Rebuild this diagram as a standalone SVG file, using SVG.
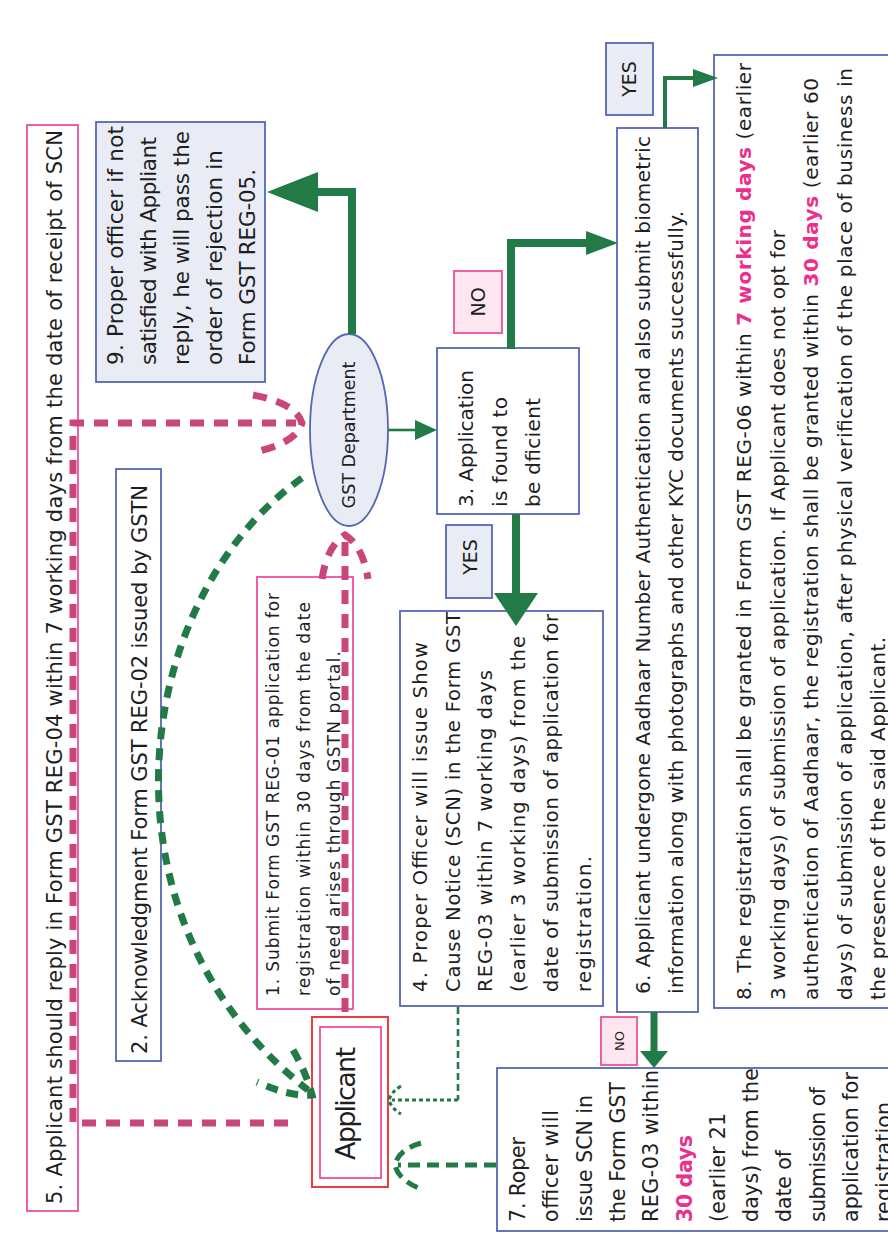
<svg xmlns="http://www.w3.org/2000/svg" width="888" height="1254" viewBox="0 0 888 1254">
  <style>
    .bg { fill: #ffffff; }
    .box { fill: #ffffff; stroke: #5567b5; stroke-width: 1.8; }
    .boxf { fill: #e9ecf5; stroke: #5567b5; stroke-width: 1.8; }
    .pbox { fill: #ffffff; stroke: #ef4f9c; stroke-width: 1.8; }
    .plab { fill: #fde6f0; stroke: #ef4f9c; stroke-width: 1.8; }
    .red { fill: #ffffff; stroke: #f03c3c; stroke-width: 2; }
    .t { font-family: "DejaVu Sans", "Liberation Sans", sans-serif; fill: #1e1e1e; }
    .hl { fill: #ec2f8c; font-weight: bold; }
    .g-solid { fill: none; stroke: #227a46; stroke-linejoin: miter; }
    .g-head { fill: #227a46; stroke: none; }
    .p-dash { fill: none; stroke: #c9457a; stroke-width: 7; stroke-dasharray: 14 10; }
    .g-dash { fill: none; stroke: #227a46; stroke-width: 7; stroke-dasharray: 12 9; }
    .g-thin { fill: none; stroke: #227a46; stroke-width: 2.6; stroke-dasharray: 7 4; }
    .g-dot { fill: none; stroke: #227a46; stroke-width: 3.2; stroke-dasharray: 4 3; }
    .g-mid { fill: none; stroke: #227a46; stroke-width: 5; stroke-dasharray: 12 7; }
  </style>

  <rect class="bg" x="0" y="0" width="888" height="1254"/>

  <!-- 5. reply box -->
  <g id="node-reply">
    <rect class="pbox" x="27" y="125" width="51" height="1086"/>
    <text class="t" font-size="21" transform="translate(62,1204) rotate(-90)" textLength="1074">5. Applicant should reply in Form GST REG-04 within 7 working days from the date of receipt of SCN</text>
  </g>

  <!-- 2. acknowledgment -->
  <g id="node-ack">
    <rect class="box" x="116" y="469" width="45" height="592"/>
    <text class="t" font-size="21" transform="translate(147,1054) rotate(-90)" textLength="569">2. Acknowledgment Form GST REG-02 issued by GSTN</text>
  </g>

  <!-- 9. rejection -->
  <g id="node-reject">
    <rect class="boxf" x="96" y="122" width="169" height="260"/>
    <text class="t" font-size="21.5" transform="translate(123,365) rotate(-90)" textLength="239">9. Proper officer if not</text>
    <text class="t" font-size="21.5" transform="translate(156,365) rotate(-90)" textLength="228">satisfied with Appliant</text>
    <text class="t" font-size="21.5" transform="translate(189,365) rotate(-90)" textLength="234">reply, he will pass the</text>
    <text class="t" font-size="21.5" transform="translate(222,365) rotate(-90)" textLength="215">order of rejection in</text>
    <text class="t" font-size="21.5" transform="translate(255,365) rotate(-90)" textLength="196">Form GST REG-05.</text>
  </g>

  <!-- 1. submit -->
  <g id="node-submit">
    <rect class="pbox" x="257" y="577" width="96" height="432"/>
    <text class="t" font-size="17" transform="translate(279,996) rotate(-90)" textLength="403">1. Submit Form GST REG-01 application for</text>
    <text class="t" font-size="17" transform="translate(309.5,996) rotate(-90)" textLength="394">registration within 30 days from the date</text>
    <text class="t" font-size="17" transform="translate(340,996) rotate(-90)" textLength="345">of need arises through GSTN portal.</text>
  </g>

  <!-- Applicant -->
  <g id="node-applicant">
    <rect class="red" x="312" y="1017" width="76" height="170"/>
    <rect class="pbox" x="320" y="1027" width="61" height="151"/>
    <text class="t" font-size="27" transform="translate(355,1160) rotate(-90)" textLength="113">Applicant</text>
  </g>

  <!-- GST Department -->
  <g id="node-gst">
    <ellipse cx="349" cy="430" rx="39" ry="96" fill="#e9ecf5" stroke="#5567b5" stroke-width="1.8"/>
    <text class="t" font-size="17.5" text-anchor="middle" transform="translate(355,435) rotate(-90)">GST Department</text>
  </g>

  <!-- 3. deficient -->
  <g id="node-deficient">
    <rect class="box" x="437" y="348" width="142" height="166"/>
    <text class="t" font-size="20" transform="translate(473,507) rotate(-90)" textLength="137">3. Application</text>
    <text class="t" font-size="20" transform="translate(507,507) rotate(-90)" textLength="110">is found to</text>
    <text class="t" font-size="20" transform="translate(540,507) rotate(-90)" textLength="109">be dficient</text>
  </g>

  <!-- labels -->
  <g id="label-no-1">
    <rect class="plab" x="454" y="271" width="48" height="62"/>
    <text class="t" font-size="19" text-anchor="middle" transform="translate(485,302) rotate(-90)">NO</text>
  </g>
  <g id="label-yes-1">
    <rect class="boxf" x="446" y="525" width="46" height="73"/>
    <text class="t" font-size="19" text-anchor="middle" transform="translate(477,557) rotate(-90)">YES</text>
  </g>
  <g id="label-yes-2">
    <rect class="boxf" x="606" y="43" width="47" height="72"/>
    <text class="t" font-size="19" text-anchor="middle" transform="translate(636,79) rotate(-90)">YES</text>
  </g>
  <g id="label-no-2">
    <rect class="plab" x="601" y="1017" width="36" height="48"/>
    <text class="t" font-size="13" text-anchor="middle" transform="translate(624,1041) rotate(-90)">NO</text>
  </g>

  <!-- 4. show cause notice -->
  <g id="node-scn">
    <rect class="box" x="400" y="611" width="203" height="395"/>
    <text class="t" font-size="19.5" transform="translate(427,992) rotate(-90)" textLength="350">4. Proper Officer will issue Show</text>
    <text class="t" font-size="19.5" transform="translate(459.7,992) rotate(-90)" textLength="380">Cause Notice (SCN) in the Form GST</text>
    <text class="t" font-size="19.5" transform="translate(492.4,992) rotate(-90)" textLength="322">REG-03 within 7 working days</text>
    <text class="t" font-size="19.5" transform="translate(525.1,992) rotate(-90)" textLength="356">(earlier 3 working days) from the</text>
    <text class="t" font-size="19.5" transform="translate(557.8,992) rotate(-90)" textLength="378">date of submission of application for</text>
    <text class="t" font-size="19.5" transform="translate(590.5,992) rotate(-90)" textLength="136">registration.</text>
  </g>

  <!-- 6. Aadhaar authentication -->
  <g id="node-aadhaar">
    <rect class="box" x="617" y="128" width="81" height="884"/>
    <text class="t" font-size="20" transform="translate(650,994) rotate(-90)" textLength="858">6. Applicant undergone Aadhaar Number Authentication and also submit biometric</text>
    <text class="t" font-size="20" transform="translate(683,994) rotate(-90)" textLength="783">information along with photographs and other KYC documents successfully.</text>
  </g>

  <!-- 8. registration granted -->
  <g id="node-granted">
    <rect class="box" x="714" y="55" width="190" height="953"/>
    <text class="t" font-size="20" transform="translate(751,1000) rotate(-90)" textLength="937">8. The registration shall be granted in Form GST REG-06 within <tspan class="hl">7 working days</tspan> (earlier</text>
    <text class="t" font-size="20" transform="translate(785,1000) rotate(-90)" textLength="770">3 working days) of submission of application. If Applicant does not opt for</text>
    <text class="t" font-size="20" transform="translate(818,1000) rotate(-90)" textLength="922">authentication of Aadhaar, the registration shall be granted within <tspan class="hl">30 days</tspan> (earlier 60</text>
    <text class="t" font-size="20" transform="translate(852,1000) rotate(-90)" textLength="932">days) of submission of application, after physical verification of the place of business in</text>
    <text class="t" font-size="20" transform="translate(885,1000) rotate(-90)" textLength="363">the presence of the said Applicant.</text>
  </g>

  <!-- 7. SCN within 30 days -->
  <g id="node-scn30">
    <rect class="box" x="497" y="1068" width="410" height="163"/>
    <text class="t" font-size="20.5" transform="translate(525,1222) rotate(-90)" textLength="85">7. Roper</text>
    <text class="t" font-size="20.5" transform="translate(558.3,1222) rotate(-90)" textLength="112">officer will</text>
    <text class="t" font-size="20.5" transform="translate(591.6,1222) rotate(-90)" textLength="127">issue SCN in</text>
    <text class="t" font-size="20.5" transform="translate(624.9,1222) rotate(-90)" textLength="140">the Form GST</text>
    <text class="t" font-size="20.5" transform="translate(658.2,1222) rotate(-90)" textLength="152">REG-03 within</text>
    <text class="t hl" font-size="20.5" transform="translate(691.5,1222) rotate(-90)" textLength="87">30 days</text>
    <text class="t" font-size="20.5" transform="translate(724.8,1222) rotate(-90)" textLength="109">(earlier 21</text>
    <text class="t" font-size="20.5" transform="translate(758.1,1222) rotate(-90)" textLength="154">days) from the</text>
    <text class="t" font-size="20.5" transform="translate(791.4,1222) rotate(-90)" textLength="72">date of</text>
    <text class="t" font-size="20.5" transform="translate(824.7,1222) rotate(-90)" textLength="135">submission of</text>
    <text class="t" font-size="20.5" transform="translate(858,1222) rotate(-90)" textLength="150">application for</text>
    <text class="t" font-size="20.5" transform="translate(891.3,1222) rotate(-90)" textLength="120">registration</text>
  </g>

  <!-- connectors -->
  <g id="connectors">
    <!-- GST Department to rejection -->
    <path class="g-solid" stroke-width="8" d="M352,334 V192 H316"/>
    <polygon class="g-head" points="267,192 318,172 318,212"/>
    <!-- GST Department to scrutiny -->
    <path class="g-solid" stroke-width="2.6" d="M388,430 H418"/>
    <polygon class="g-head" points="437,430 415,420 415,440"/>
    <!-- deficient: YES -->
    <path class="g-solid" stroke-width="8" d="M516,514 V596"/>
    <polygon class="g-head" points="494,593 538,593 516,626"/>
    <!-- deficient: NO -->
    <path class="g-solid" stroke-width="8" d="M511,349 V243 H589"/>
    <polygon class="g-head" points="618,243 586,231 586,255"/>
    <!-- authentication: YES -->
    <path class="g-solid" stroke-width="4" d="M665,128 V78 H696"/>
    <polygon class="g-head" points="718,78 693,69 693,87"/>
    <!-- authentication: NO -->
    <path class="g-solid" stroke-width="7" d="M654,1012 V1054"/>
    <polygon class="g-head" points="640,1051 668,1051 654,1068"/>

    <!-- reply route to GST Department -->
    <path class="p-dash" d="M288,1123 H73 V423 H296"/>
    <path class="p-dash" d="M253,395 Q296,403 302,423 Q296,443 255,452"/>
    <!-- application route to GST Department -->
    <path class="p-dash" d="M345,1012 V540"/>
    <path class="p-dash" d="M322,579 Q327,546 345,535 Q363,546 368,579"/>

    <!-- acknowledgment route to Applicant -->
    <path class="g-dash" d="M302,478 C130,600 90,920 308,1090"/>
    <path class="g-dash" d="M293,1050 Q306,1072 312,1095 Q290,1097 257,1082"/>

    <!-- SCN route to Applicant -->
    <path class="g-thin" d="M458,1007 V1100"/>
    <path class="g-dot" d="M458,1100 H392"/>
    <path class="g-dot" d="M401,1086 Q391,1092 389,1100 Q391,1108 401,1114"/>
    <!-- SCN (30 days) route to Applicant -->
    <path class="g-mid" d="M496,1165 H398"/>
    <path class="g-mid" d="M421,1143 Q398,1150 395,1165 Q398,1180 421,1189"/>
  </g>
</svg>
